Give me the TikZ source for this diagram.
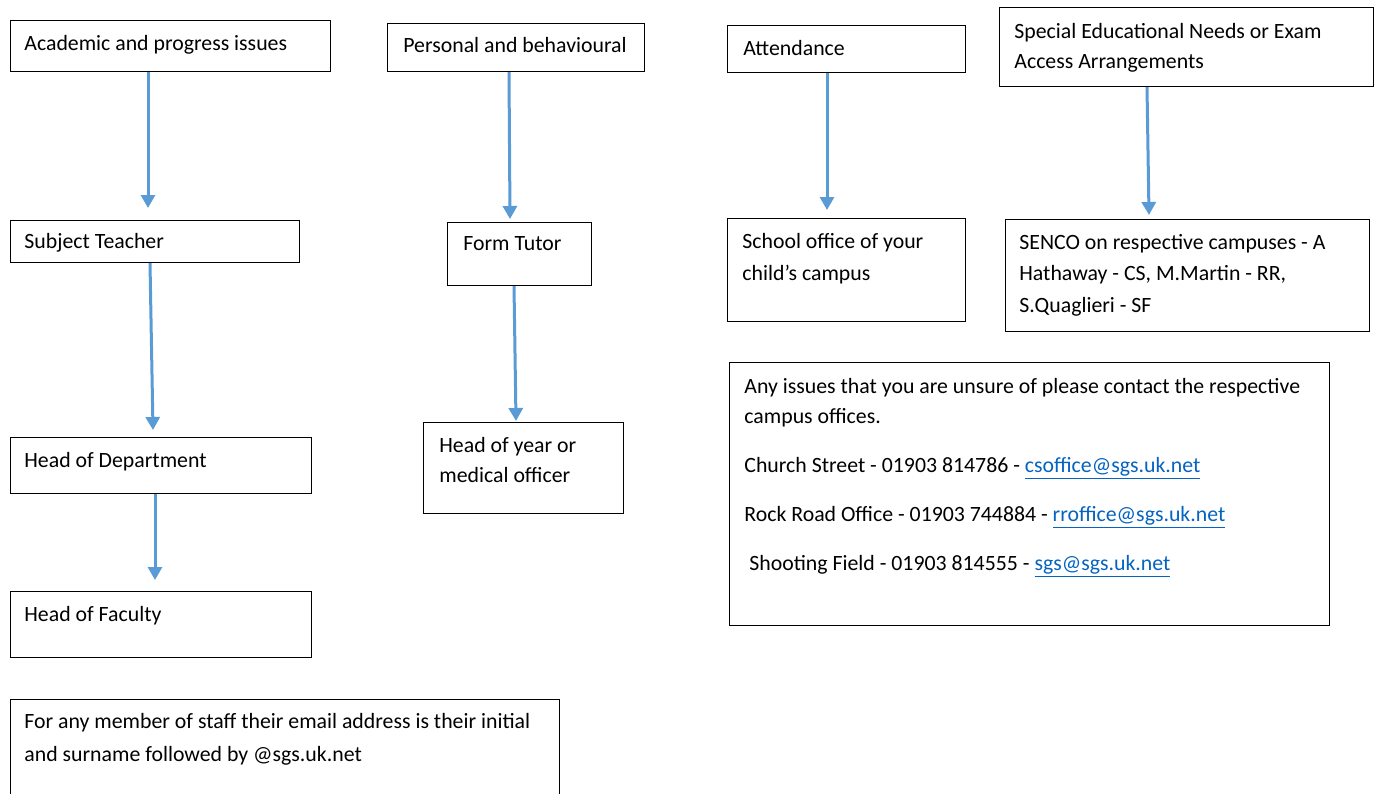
\documentclass[tikz,border=0pt]{standalone}
\usepackage{fontspec}
\setmainfont{Carlito}
\usetikzlibrary{arrows.meta}
\definecolor{arrowblue}{HTML}{5B9BD5}
\definecolor{linkblue}{HTML}{0563C1}
\newcommand{\lnk}[1]{\textcolor{linkblue}{\underline{#1}}}
\newcommand{\ml}[1]{\begin{tabular}[t]{@{}l@{}}#1\end{tabular}}
\begin{document}
\begin{tikzpicture}[x=0.5pt,y=-0.5pt,
 box/.style={draw=black, line width=0.6pt, anchor=north west, inner sep=0pt},
 txt/.style={anchor=base west, inner sep=0pt, font=\fontsize{10.9}{15}\selectfont},
 arr/.style={draw=arrowblue, line width=1.5pt, -{Triangle[width=7pt,length=6.5pt]}}]
\useasboundingbox (0,0) rectangle (1375,793);
\clip (0,0) rectangle (1375,793);
% boxes
\node[box, minimum width=160pt, minimum height=25.5pt] (acad) at (10,20) {};
\node[box, minimum width=128.5pt, minimum height=24pt] (pers) at (387,23) {};
\node[box, minimum width=119pt, minimum height=23.5pt] (att) at (727,25) {};
\node[box, minimum width=187pt, minimum height=39.5pt] (sen) at (999,7) {};
\node[box, minimum width=144.5pt, minimum height=21pt] (subj) at (10,220) {};
\node[box, minimum width=72pt, minimum height=31.5pt] (form) at (447,222) {};
\node[box, minimum width=119pt, minimum height=51.5pt] (office) at (727,218) {};
\node[box, minimum width=182pt, minimum height=56pt] (senco) at (1005,219) {};
\node[box, minimum width=150.5pt, minimum height=28pt] (hod) at (10,437) {};
\node[box, minimum width=100pt, minimum height=45.5pt] (hoy) at (423,422) {};
\node[box, minimum width=150.5pt, minimum height=33pt] (hof) at (10,591) {};
\node[box, minimum width=300pt, minimum height=131.5pt] (any) at (729,362) {};
\node[box, minimum width=274.5pt, minimum height=60pt] (staff) at (10,699) {};
% texts
\node[txt] (acadt) at (24,50) {Academic and progress issues};
\node[txt] (perst) at (403,52) {Personal and behavioural};
\node[txt] (attt) at (743,55) {Attendance};
\node[txt] (sent) at (1014,38) {\ml{Special Educational Needs or Exam\\Access Arrangements}};
\node[txt] (subjt) at (24,248) {Subject Teacher};
\node[txt] (formt) at (463,250) {Form Tutor};
\node[txt, font=\fontsize{10.9}{16}\selectfont] (officet) at (742,248) {\ml{School office of your\\child’s campus}};
\node[txt, font=\fontsize{10.9}{15.75}\selectfont] (sencot) at (1019,249) {\ml{SENCO on respective campuses - A\\Hathaway - CS, M.Martin - RR,\\S.Quaglieri - SF}};
\node[txt] (hodt) at (24,467) {Head of Department};
\node[txt] (hoyt) at (439,452) {\ml{Head of year or\\medical officer}};
\node[txt] (hoft) at (24,621) {Head of Faculty};
\node[txt] (anyt) at (744,393) {\ml{Any issues that you are unsure of please contact the respective\\campus offices.\\[9.5pt]
Church Street - 01903 814786 - \lnk{csoffice@sgs.uk.net}\\[9.5pt]
Rock Road Office - 01903 744884 - \lnk{rroffice@sgs.uk.net}\\[9.5pt]
\hspace*{2.5pt}Shooting Field - 01903 814555 - \lnk{sgs@sgs.uk.net}}};
\node[txt, font=\fontsize{10.9}{16.5}\selectfont] (stafft) at (24,728) {\ml{For any member of staff their email address is their initial\\and surname followed by @sgs.uk.net}};
% arrows
\draw[arr] ([xshift=69pt]acad.south west) -- ([xshift=69pt,yshift=6pt]subj.north west);
\draw[arr] ([xshift=70pt]subj.south west) -- ([xshift=71.5pt,yshift=3.5pt]hod.north west);
\draw[arr] ([xshift=72.5pt]hod.south west) -- ([xshift=72.5pt,yshift=5.5pt]hof.north west);
\draw[arr] ([xshift=61pt]pers.south west) -- ([xshift=31.5pt,yshift=1.5pt]form.north west);
\draw[arr] ([xshift=33.5pt]form.south west) -- ([xshift=46.5pt,yshift=0.5pt]hoy.north west);
\draw[arr] ([xshift=50pt]att.south west) -- ([xshift=50pt,yshift=4pt]office.north west);
\draw[arr] ([xshift=74pt]sen.south west) -- ([xshift=72pt,yshift=2pt]senco.north west);
\end{tikzpicture}
\end{document}
